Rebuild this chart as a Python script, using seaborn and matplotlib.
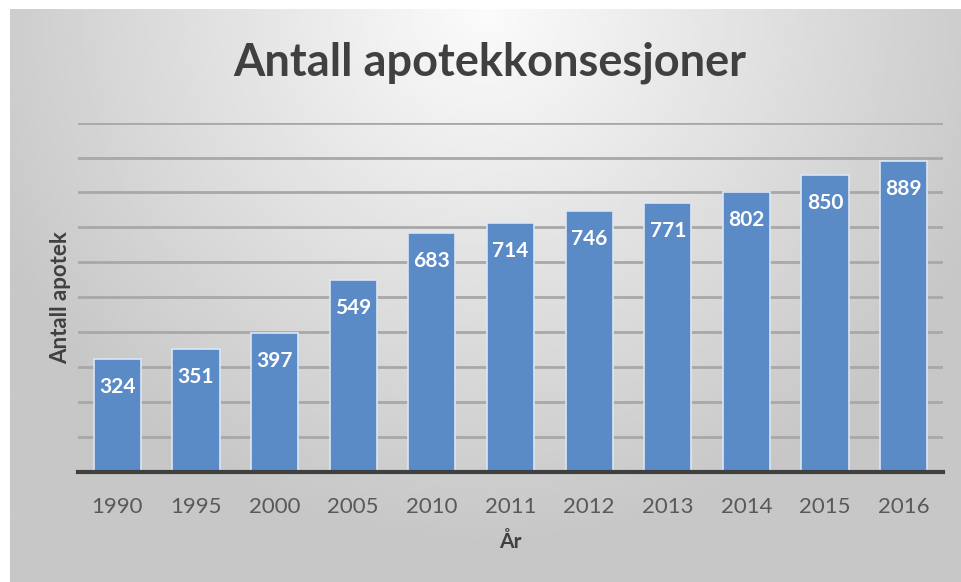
import numpy as np
import pandas as pd
import matplotlib
matplotlib.use("Agg")
import matplotlib.pyplot as plt
import seaborn as sns

# data
years = ["1990", "1995", "2000", "2005", "2010", "2011", "2012", "2013", "2014", "2015", "2016"]
antall = [324, 351, 397, 549, 683, 714, 746, 771, 802, 850, 889]

df = pd.DataFrame({"aar": years, "antall": antall})

sns.set_theme(style="white")
plt.rcParams["font.family"] = ["Lato", "DejaVu Sans"]

fig = plt.figure(figsize=(9.62, 5.82), dpi=100)
fig.patch.set_facecolor("white")

# gray gradient background (lighter at top centre)
bg = fig.add_axes([10 / 962, 0, 1 - 10 / 962, 1 - 9 / 582])
yy, xx = np.mgrid[0:1:200j, -1:1:300j]
dist = np.sqrt((xx * 0.9) ** 2 + (yy * 1.1) ** 2)
shade = np.clip(0.985 - 0.2 * dist, 0.78, 0.985)
bg.imshow(shade, cmap="gray", vmin=0, vmax=1, aspect="auto", origin="upper",
          extent=[0, 1, 0, 1])
bg.set_axis_off()

ax = fig.add_axes([78 / 962, 1 - 471.7 / 582, (943 - 78) / 962, (471.7 - 122.7) / 582])
ax.patch.set_alpha(0)

sns.barplot(data=df, x="aar", y="antall", color="#5b8bc6", width=0.6,
            edgecolor="#dce6f2", linewidth=1.2, saturation=1, ax=ax, zorder=3)

ax.set_ylim(0, 1000)
ax.set_yticks(np.arange(0, 1001, 100))
ax.yaxis.grid(True, color="#a8a8a8", linewidth=2, zorder=0)
ax.set_axisbelow(True)
ax.tick_params(axis="y", left=False, labelleft=False)
ax.tick_params(axis="x", bottom=False, labelsize=16, colors="#595959", pad=12)
for s in ["top", "right", "left"]:
    ax.spines[s].set_visible(False)
ax.spines["bottom"].set_color("#404040")
ax.spines["bottom"].set_linewidth(3)
ax.spines["bottom"].set_zorder(5)

for p, v in zip(ax.patches, antall):
    ax.annotate(str(v), (p.get_x() + p.get_width() / 2, p.get_height()),
                xytext=(0, -28), textcoords="offset pixels",
                ha="center", va="center", color="white", fontsize=15, fontweight="bold",
                zorder=6)

ax.set_xlabel("År", fontsize=15, fontweight="bold", color="#404040", labelpad=11)
ax.set_ylabel("Antall apotek", fontsize=16, fontweight="bold", color="#404040", labelpad=5)

fig.text(0.509, 1 - 63 / 582, "Antall apotekkonsesjoner", ha="center", va="center",
         fontsize=32.5, fontweight="bold", color="#404040")

fig.savefig("out.png", dpi=100)
